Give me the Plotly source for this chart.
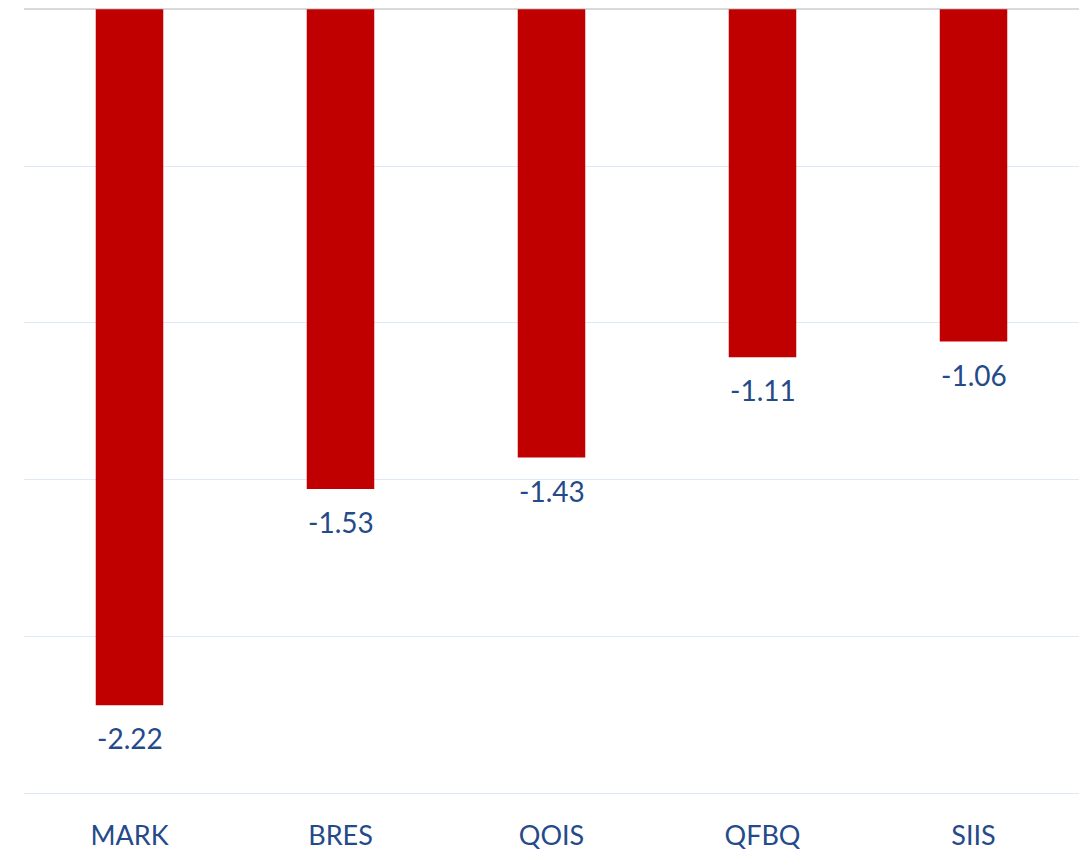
import plotly.graph_objects as go

categories = ["MARK", "BRES", "QOIS", "QFBQ", "SIIS"]
values = [-2.22, -1.53, -1.43, -1.11, -1.06]
labels = ["-2.22", "-1.53", "-1.43", "-1.11", "-1.06"]

TEXT_COLOR = "#244A8A"
FONT = "Lato"

fig = go.Figure(
    go.Bar(
        x=categories,
        y=values,
        marker=dict(color="#C00000", line=dict(width=0)),
        cliponaxis=False,
    )
)

for c, v, t in zip(categories, values, labels):
    fig.add_annotation(
        x=c, y=v, text=t, showarrow=False,
        yanchor="top", yshift=-14,
        font=dict(family=FONT, size=28, color=TEXT_COLOR),
    )

fig.update_layout(
    width=1087,
    height=853,
    margin=dict(l=16, r=16, t=0, b=66),
    paper_bgcolor="white",
    plot_bgcolor="white",
    bargap=0.68,
    showlegend=False,
    font=dict(family=FONT, color=TEXT_COLOR),
)
fig.update_xaxes(
    showgrid=False,
    showline=False,
    ticks="",
    tickfont=dict(family=FONT, size=27, color=TEXT_COLOR),
    ticklabelstandoff=22,
)
fig.update_yaxes(
    range=[-2.506, 0.004],
    tickvals=[-2.5, -2.0, -1.5, -1.0, -0.5],
    showticklabels=False,
    showgrid=True,
    gridcolor="#DFE9F6",
    gridwidth=1,
    zeroline=True,
    zerolinecolor="#D9D9D9",
    zerolinewidth=2,
    showline=False,
    ticks="",
)

fig.write_html("out.html")
